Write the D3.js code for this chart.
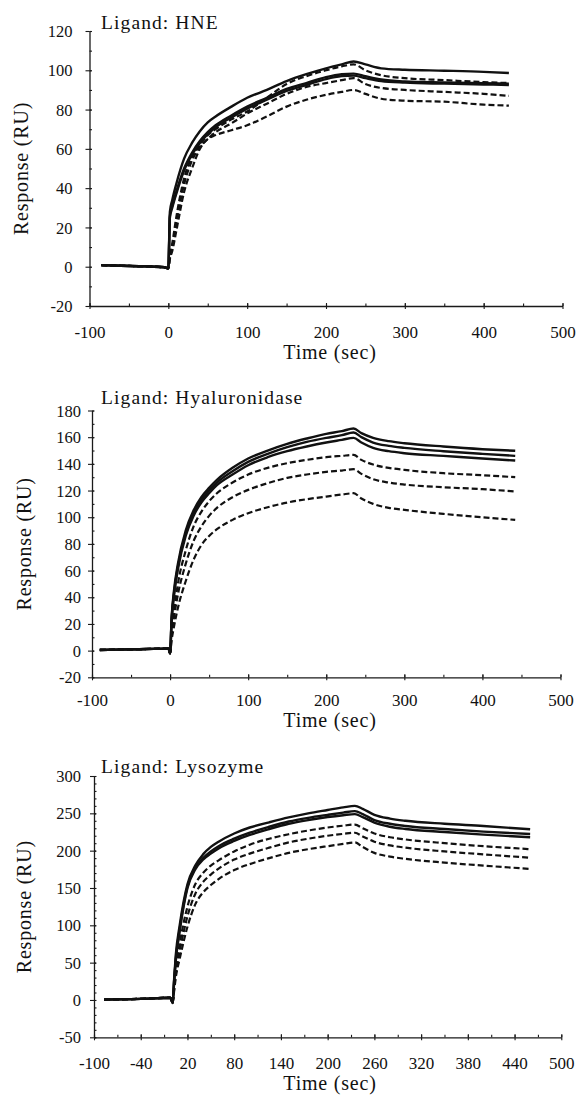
<!DOCTYPE html>
<html>
<head>
<meta charset="utf-8">
<script src="https://cdn.jsdelivr.net/npm/d3@7"></script>
<style>
  html, body { margin: 0; padding: 0; background: #fff; }
  svg { display: block; }
  text { font-family: "Liberation Serif", "Times New Roman", serif; fill: #111; }
</style>
</head>
<body>
<div id="chart"></div>
<script>
// ---- data (time in sec, response in RU) ----

// HNE
const hneTime = [-85, -60, -30, -5, 0, 2, 5, 10, 20, 30, 40, 50, 60, 80, 100, 125, 150, 175, 200, 220, 235, 250, 270, 300, 350, 400, 432];
const hneS1 = [0.8, 0.5, 0.2, -0.3, -0.8, 28, 34, 42, 55, 63, 69, 73.5, 76.5, 81.5, 86, 90, 94.5, 98, 101, 103, 104.5, 103, 101, 100.3, 99.8, 99.2, 98.6];
const hneS2 = [0.8, 0.5, 0.2, -0.3, -0.8, 26, 31, 38, 50, 58, 64, 68.5, 72, 77, 81.5, 86, 90.5, 93.5, 96.5, 98, 98.3, 97, 95.3, 94.3, 93.8, 93.4, 93.2];
const hneS3 = [0.8, 0.5, 0.2, -0.3, -0.8, 25, 30, 37, 49, 57, 63, 67.5, 71, 76, 80.5, 85, 89.5, 92.5, 95.5, 97, 97.3, 96, 94.5, 93.7, 93.2, 92.8, 92.5];
const hneD1 = [0.8, 0.5, 0.2, -0.3, -0.8, 6, 12, 25, 45, 56, 62, 67, 70, 75, 79, 86, 93, 97, 100, 102, 103, 100, 97.5, 96, 95, 94, 93.5];
const hneD2 = [0.8, 0.5, 0.2, -0.3, -0.8, 5, 10, 22, 42, 54, 61, 65, 68.5, 73, 78, 83, 88, 91.5, 93.5, 95, 96, 93, 91, 90, 89, 88, 87];
const hneD3 = [0.8, 0.5, 0.2, -0.3, -0.8, 4, 8, 18, 38, 50, 60, 65, 67, 69.5, 72, 76.5, 81.5, 85, 87.5, 89, 90, 88, 85.5, 84.5, 84, 82.5, 82];

// Hyaluronidase
const hyaTime = [-90, -45, -2, 0, 2, 5, 10, 20, 30, 40, 50, 60, 80, 100, 125, 150, 175, 200, 220, 235, 245, 260, 280, 300, 350, 400, 442];
const hyaS1 = [0.5, 1, 1.5, -2, 25, 45, 65, 90, 105, 115, 122, 128, 137, 144, 150, 155, 159, 162.5, 164.5, 166.5, 163, 159.5, 157, 155.5, 153, 151, 149.8];
const hyaS2 = [0.5, 1, 1.5, -2, 24, 43, 63, 88, 103, 113, 120, 126, 134.5, 141.5, 147.5, 152.5, 156.5, 159.5, 161.5, 163.5, 160, 156, 153.5, 152, 149.5, 147.5, 146];
const hyaS3 = [0.5, 1, 1.5, -2, 23, 41, 61, 86, 101, 111, 118, 124, 132, 139, 145, 149.5, 153, 156, 158, 159.5, 156, 152, 149.5, 148, 146, 144, 142.5];
const hyaD1 = [0.5, 1, 1.5, -2, 15, 30, 50, 75, 93, 104, 112, 118, 126, 132, 137, 140.5, 143, 145, 146, 146.7, 143, 139.5, 137, 135.5, 133, 131.5, 130];
const hyaD2 = [0.5, 1, 1.5, -2, 12, 25, 42, 65, 82, 93, 101, 107, 115, 120.5, 125.5, 129.5, 132, 134, 135, 136, 132.5, 128.5, 126, 124.5, 122.5, 121, 119.3];
const hyaD3 = [0.5, 1, 1.5, -2, 8, 18, 32, 52, 68, 79, 86, 91, 98, 103, 107.5, 111, 113.5, 115.5, 117, 118, 114, 110, 107, 105.5, 102.5, 100, 98];

// Lysozyme
const lysTime = [-87, -40, -2, 1, 3, 5, 10, 20, 30, 40, 50, 60, 80, 100, 125, 150, 175, 200, 220, 235, 245, 260, 280, 300, 350, 400, 460];
const lysS1 = [0.5, 1.5, 3, -4, 30, 60, 100, 155, 180, 195, 205, 212, 223, 231, 238, 244.5, 250, 254.5, 258, 260, 256, 248, 243, 240, 236, 233, 228.6];
const lysS2 = [0.5, 1.5, 3, -4, 28, 55, 95, 152, 177, 190, 199, 206, 216, 224, 232, 239, 244, 248, 251, 253, 249, 241, 236, 233, 229, 225.5, 222.3];
const lysS3 = [0.5, 1.5, 3, -4, 26, 52, 92, 150, 175, 188, 196, 203, 213, 221, 229, 236, 241, 245, 247.5, 249, 245, 237.5, 232, 229, 225, 221.5, 218];
const lysD1 = [0.5, 1.5, 3, -4, 20, 40, 75, 125, 155, 170, 180, 187, 199, 208, 216, 222, 227, 231, 233.5, 235, 230, 223, 218, 215, 210, 206, 202];
const lysD2 = [0.5, 1.5, 3, -4, 16, 35, 65, 112, 142, 158, 168, 176, 188, 196, 204, 211, 216, 220, 222.5, 224, 219, 212, 207, 204, 199, 195, 190.6];
const lysD3 = [0.5, 1.5, 3, -4, 13, 30, 55, 98, 128, 144, 154, 162, 174, 182, 190, 197, 202, 206, 209, 211, 205, 197, 192, 189, 184, 180, 175.5];

// tick labels
const xTicksHundred = [-100, 0, 100, 200, 300, 400, 500];
const xTicksSixty = [-100, -40, 20, 80, 140, 200, 260, 320, 380, 440, 500];
const hneYTicks = [-20, 0, 20, 40, 60, 80, 100, 120];
const hyaYTicks = [-20, 0, 20, 40, 60, 80, 100, 120, 140, 160, 180];
const lysYTicks = [-50, 0, 50, 100, 150, 200, 250, 300];

// ---- layout ----
const W = 578, H = 1095;
const SERIF = "'Liberation Serif', 'Times New Roman', serif";

const panels = [
    {
        title: "Ligand: HNE", time: hneTime,
        solid: [hneS1, hneS2, hneS3], dashed: [hneD1, hneD2, hneD3],
        xDomain: [-100, 500], yDomain: [-20, 120],
        xRange: [89.5, 562.5], yRange: [306, 31],
        xTicks: xTicksHundred, xMinorStep: 50,
        yTicks: hneYTicks, yMinorStep: 10,
        yLabelGap: 17, xLabelDy: 31.5, titleY: 29, yTitleX: 28, xTitleY: 358.5
    },
    {
        title: "Ligand: Hyaluronidase", time: hyaTime,
        solid: [hyaS1, hyaS2, hyaS3], dashed: [hyaD1, hyaD2, hyaD3],
        xDomain: [-100, 500], yDomain: [-20, 180],
        xRange: [92, 560.5], yRange: [677.3, 410.5],
        xTicks: xTicksHundred, xMinorStep: 50,
        yTicks: hyaYTicks, yMinorStep: 10,
        yLabelGap: 11, xLabelDy: 29, titleY: 404, yTitleX: 31, xTitleY: 727
    },
    {
        title: "Ligand: Lysozyme", time: lysTime,
        solid: [lysS1, lysS2, lysS3], dashed: [lysD1, lysD2, lysD3],
        xDomain: [-100, 500], yDomain: [-50, 300],
        xRange: [94, 561.3], yRange: [1037.3, 776],
        xTicks: xTicksSixty, xMinorStep: 30,
        yTicks: lysYTicks, yMinorStep: 10,
        yLabelGap: 13, xLabelDy: 31.5, titleY: 773, yTitleX: 31, xTitleY: 1090
    }
];

const svg = d3.select("#chart")
    .append("svg")
    .attr("width", W)
    .attr("height", H);

const styleAxis = (g) => {
    g.attr("font-family", SERIF);
    g.select(".domain").attr("stroke", "#1a1a1a").attr("stroke-width", 1.3);
    g.selectAll(".tick line").attr("stroke", "#1a1a1a").attr("stroke-width", 1.1);
};

// plain hyphen for negatives, as in the figure
const fmt = d => String(d);

panels.forEach(p => {
    const x = d3.scaleLinear().domain(p.xDomain).range(p.xRange);
    const y = d3.scaleLinear().domain(p.yDomain).range(p.yRange);
    const x0 = p.xRange[0];
    const y0 = p.yRange[0];

    const xMinor = d3.range(p.xDomain[0], p.xDomain[1] + 1, p.xMinorStep);
    const yMinor = d3.range(p.yDomain[0], p.yDomain[1] + 1, p.yMinorStep);

    // minor ticks (inside)
    svg.append("g")
        .attr("transform", `translate(0,${y0})`)
        .call(d3.axisTop(x).tickValues(xMinor).tickSize(2.5).tickFormat(""))
        .call(g => g.select(".domain").remove())
        .call(styleAxis);
    svg.append("g")
        .attr("transform", `translate(${x0},0)`)
        .call(d3.axisRight(y).tickValues(yMinor).tickSize(2.5).tickFormat(""))
        .call(g => g.select(".domain").remove())
        .call(styleAxis);

    // major ticks: inner halves
    svg.append("g")
        .attr("transform", `translate(0,${y0})`)
        .call(d3.axisTop(x).tickValues(p.xTicks).tickSize(3).tickFormat(""))
        .call(g => g.select(".domain").remove())
        .call(styleAxis);
    svg.append("g")
        .attr("transform", `translate(${x0},0)`)
        .call(d3.axisRight(y).tickValues(p.yTicks).tickSize(2).tickFormat(""))
        .call(g => g.select(".domain").remove())
        .call(styleAxis);

    // x axis with labels
    const gx = svg.append("g")
        .attr("transform", `translate(0,${y0})`)
        .call(d3.axisBottom(x).tickValues(p.xTicks).tickSizeInner(3).tickSizeOuter(0).tickFormat(fmt))
        .call(styleAxis);
    gx.selectAll("text")
        .attr("y", p.xLabelDy).attr("dy", 0)
        .style("font-size", "17px")
        .style("font-family", SERIF)
        .attr("fill", "#111");

    // y axis with labels
    const gy = svg.append("g")
        .attr("transform", `translate(${x0},0)`)
        .call(d3.axisLeft(y).tickValues(p.yTicks).tickSizeInner(4).tickSizeOuter(0).tickFormat(fmt))
        .call(styleAxis);
    gy.selectAll("text")
        .attr("x", -p.yLabelGap).attr("dy", "0.34em")
        .style("font-size", "16.5px")
        .style("font-family", SERIF)
        .attr("fill", "#111");

    // curves
    const line = d3.line()
        .x((d, i) => x(p.time[i]))
        .y(d => y(d))
        .curve(d3.curveMonotoneX);

    svg.append("g")
        .selectAll("path.dashed")
        .data(p.dashed)
        .join("path")
        .attr("class", "dashed")
        .attr("d", line)
        .attr("fill", "none")
        .attr("stroke", "#111")
        .attr("stroke-width", 2.2)
        .attr("stroke-dasharray", "6,3");

    svg.append("g")
        .selectAll("path.solid")
        .data(p.solid)
        .join("path")
        .attr("class", "solid")
        .attr("d", line)
        .attr("fill", "none")
        .attr("stroke", "#111")
        .attr("stroke-width", 2.4)
        .attr("stroke-linejoin", "round");

    // titles
    svg.append("text")
        .attr("x", 101)
        .attr("y", p.titleY)
        .style("font-size", "19.5px")
        .style("letter-spacing", "1.1px")
        .text(p.title);

    const yMid = (p.yRange[0] + p.yRange[1]) / 2;
    svg.append("text")
        .attr("transform", `translate(${p.yTitleX},${yMid}) rotate(-90)`)
        .attr("text-anchor", "middle")
        .style("font-size", "20px")
        .style("letter-spacing", "0.8px")
        .text("Response (RU)");

    svg.append("text")
        .attr("x", 330)
        .attr("y", p.xTitleY)
        .attr("text-anchor", "middle")
        .style("font-size", "20px")
        .style("letter-spacing", "0.8px")
        .text("Time (sec)");
});
</script>
</body>
</html>
